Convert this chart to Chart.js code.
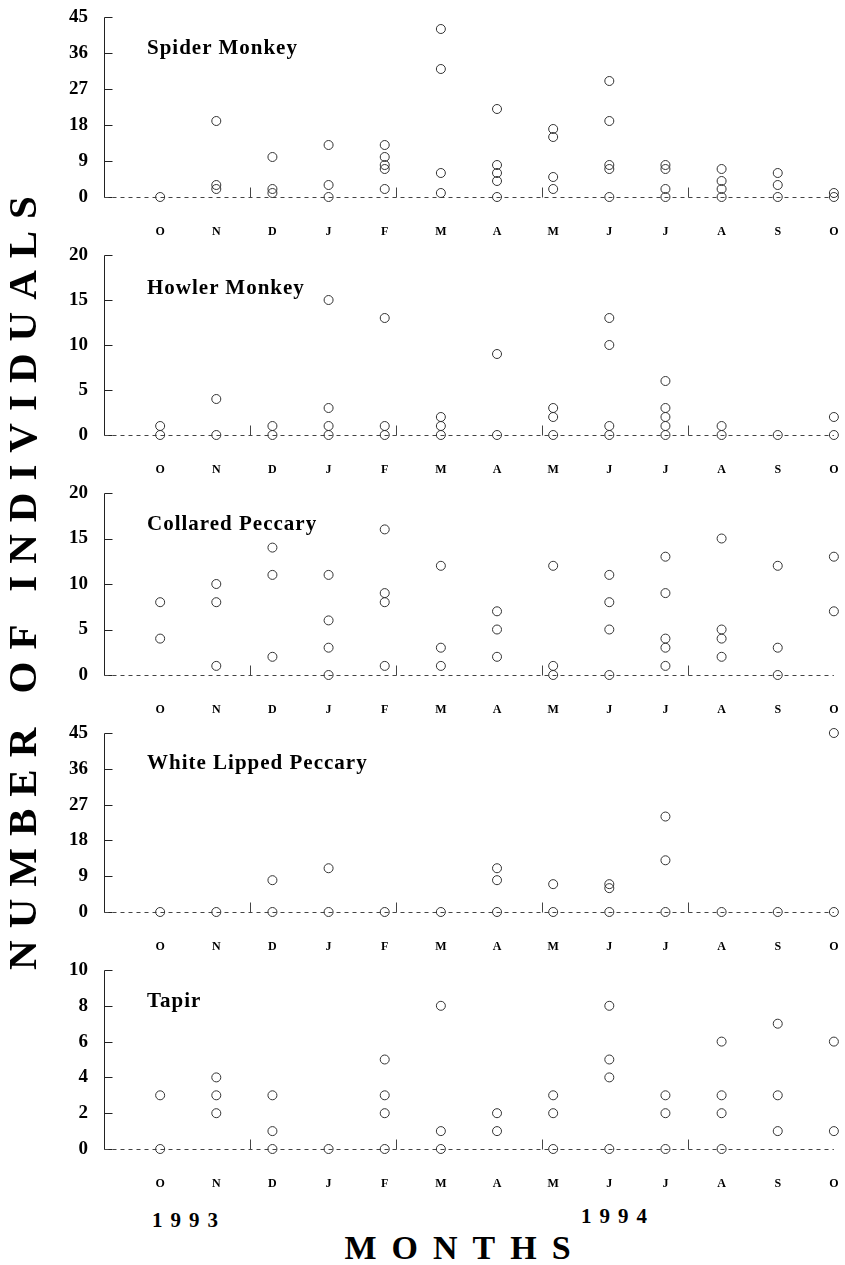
<!DOCTYPE html>
<html>
<head>
<meta charset="utf-8">
<script src="https://cdn.jsdelivr.net/npm/chart.js@4.4.1/dist/chart.umd.min.js"></script>
<style>
  body { margin: 0; background: #fff; }
  #page { position: relative; width: 845px; height: 1265px; overflow: hidden; font-family: "Liberation Serif", serif; color: #000; }
  canvas { position: absolute; left: 0; }
  .title { position: absolute; left: 147px; font-weight: bold; font-size: 21px; letter-spacing: 1px; line-height: 22px; white-space: nowrap; }
  .label { position: absolute; font-weight: bold; white-space: nowrap; text-align: center; }
</style>
</head>
<body>
<div id="page">
  <canvas id="spider" width="845" height="245"></canvas>
  <canvas id="howler" width="845" height="244"></canvas>
  <canvas id="collared" width="845" height="246"></canvas>
  <canvas id="whiteLipped" width="845" height="243"></canvas>
  <canvas id="tapir" width="845" height="243"></canvas>

  <div class="title" style="top:36px">Spider Monkey</div>
  <div class="title" style="top:276px">Howler Monkey</div>
  <div class="title" style="top:512px">Collared Peccary</div>
  <div class="title" style="top:751px">White Lipped Peccary</div>
  <div class="title" style="top:989px">Tapir</div>

  <div class="label" style="left:-378px; top:555px; width:800px; font-size:41px; letter-spacing:12px; line-height:44px; transform:rotate(-90deg);">NUMBER OF INDIVIDUALS</div>
  <div class="label" style="left:139px; top:1208px; width:100px; font-size:21px; letter-spacing:8px; line-height:24px;">1993</div>
  <div class="label" style="left:568px; top:1204px; width:100px; font-size:21px; letter-spacing:8px; line-height:24px;">1994</div>
  <div class="label" style="left:265px; top:1229px; width:400px; font-size:34px; letter-spacing:15px; line-height:38px;">MONTHS</div>
</div>

<script>
// Oct 1993 .. Oct 1994
var monthLabels = ['O', 'N', 'D', 'J', 'F', 'M', 'A', 'M', 'J', 'J', 'A', 'S', 'O'];

var spiderTicks = [0, 9, 18, 27, 36, 45];
var howlerTicks = [0, 5, 10, 15, 20];
var collaredTicks = [0, 5, 10, 15, 20];
var whiteLippedTicks = [0, 9, 18, 27, 36, 45];
var tapirTicks = [0, 2, 4, 6, 8, 10];

// small vertical marks on the zero line (month position)
var seasonMarks = [1.6, 4.2, 6.8, 9.4];

// one list of sightings per month
var spiderMonkey = [
    [0], [19, 3, 2], [10, 2, 1], [13, 3, 0], [13, 10, 8, 7, 2], [42, 32, 6, 1],
    [22, 8, 6, 4, 0], [17, 15, 5, 2], [29, 19, 8, 7, 0], [8, 7, 2, 0], [7, 4, 2, 0],
    [6, 3, 0], [1, 0]
];
var howlerMonkey = [
    [1, 0], [4, 0], [1, 0], [15, 3, 1, 0], [13, 1, 0], [2, 1, 0],
    [9, 0], [3, 2, 0], [13, 10, 1, 0], [6, 3, 2, 1, 0], [1, 0], [0], [2, 0]
];
var collaredPeccary = [
    [8, 4], [10, 8, 1], [14, 11, 2], [11, 6, 3, 0], [16, 9, 8, 1], [12, 3, 1],
    [7, 5, 2], [12, 1, 0], [11, 8, 5, 0], [13, 9, 4, 3, 1], [15, 5, 4, 2], [12, 3, 0], [13, 7]
];
var whiteLippedPeccary = [
    [0], [0], [8, 0], [11, 0], [0], [0],
    [11, 8, 0], [7, 0], [7, 6, 0], [24, 13, 0], [0], [0], [45, 0]
];
var tapir = [
    [3, 0], [4, 3, 2], [3, 1, 0], [0], [5, 3, 2, 0], [8, 1, 0],
    [2, 1], [3, 2, 0], [8, 5, 4, 0], [3, 2, 0], [6, 3, 2, 0], [7, 3, 1], [6, 1]
];

var panels = [
    { id: 'spider', counts: spiderMonkey, ticks: spiderTicks, top: 17, base: 197 },
    { id: 'howler', counts: howlerMonkey, ticks: howlerTicks, top: 255, base: 435 },
    { id: 'collared', counts: collaredPeccary, ticks: collaredTicks, top: 493, base: 675 },
    { id: 'whiteLipped', counts: whiteLippedPeccary, ticks: whiteLippedTicks, top: 733, base: 912 },
    { id: 'tapir', counts: tapir, ticks: tapirTicks, top: 970, base: 1149 }
];

var axisMarks = {
    id: 'axisMarks',
    beforeDatasetsDraw: function(chart) {
        var ctx = chart.ctx;
        var xs = chart.scales.x;
        var ys = chart.scales.y;
        var area = chart.chartArea;
        var left = Math.round(area.left) + 0.5;
        var y0 = Math.round(ys.getPixelForValue(0)) + 0.5;

        ctx.save();
        ctx.strokeStyle = '#222';
        ctx.lineWidth = 1;

        ctx.beginPath();
        ctx.moveTo(left, Math.round(ys.getPixelForValue(ys.max)) + 0.5);
        ctx.lineTo(left, y0);
        ctx.stroke();

        ys.ticks.forEach(function(t) {
            var py = Math.round(ys.getPixelForValue(t.value)) + 0.5;
            ctx.beginPath();
            ctx.moveTo(left, py);
            ctx.lineTo(left + 8, py);
            ctx.stroke();
        });

        ctx.strokeStyle = '#444';
        ctx.setLineDash([4, 4]);
        ctx.beginPath();
        ctx.moveTo(left, y0);
        ctx.lineTo(xs.getPixelForValue(12), y0);
        ctx.stroke();
        ctx.setLineDash([]);

        seasonMarks.forEach(function(m) {
            var px = Math.round(xs.getPixelForValue(m)) + 0.5;
            ctx.beginPath();
            ctx.moveTo(px, y0);
            ctx.lineTo(px, y0 - 10);
            ctx.stroke();
        });
        ctx.restore();
    }
};

panels.forEach(function(p) {
    var canvas = document.getElementById(p.id);
    var padTop = 14;
    var axisHeight = 50;
    canvas.height = padTop + (p.base - p.top) + axisHeight;
    canvas.style.top = (p.top - padTop) + 'px';

    var points = [];
    p.counts.forEach(function(list, month) {
        list.forEach(function(v) {
            points.push({ x: month, y: v });
        });
    });

    new Chart(canvas, {
        type: 'scatter',
        data: {
            datasets: [{
                data: points,
                pointStyle: 'circle',
                pointRadius: 4.5,
                pointBorderWidth: 1,
                borderColor: '#333',
                backgroundColor: 'rgba(0,0,0,0)',
                clip: false
            }]
        },
        options: {
            responsive: false,
            animation: false,
            layout: { padding: { top: padTop, right: 2, left: 0, bottom: 0 } },
            plugins: {
                legend: { display: false },
                tooltip: { enabled: false }
            },
            scales: {
                x: {
                    type: 'linear',
                    min: -1,
                    max: 12.1,
                    grid: { display: false, drawTicks: false },
                    border: { display: false },
                    afterBuildTicks: function(scale) {
                        scale.ticks = monthLabels.map(function(l, i) { return { value: i }; });
                    },
                    afterFit: function(scale) {
                        scale.height = axisHeight;
                        scale.paddingLeft = 0;
                        scale.paddingRight = 0;
                    },
                    ticks: {
                        autoSkip: false,
                        maxRotation: 0,
                        padding: 28,
                        color: '#000',
                        font: { family: 'Liberation Serif', weight: 'bold', size: 12 },
                        callback: function(value) { return monthLabels[value]; }
                    }
                },
                y: {
                    min: 0,
                    max: p.ticks[p.ticks.length - 1],
                    grid: { display: false, drawTicks: false },
                    border: { display: false },
                    afterBuildTicks: function(scale) {
                        scale.ticks = p.ticks.map(function(v) { return { value: v }; });
                    },
                    afterFit: function(scale) {
                        scale.width = 104;
                        scale.paddingTop = 0;
                        scale.paddingBottom = 0;
                    },
                    ticks: {
                        padding: 16,
                        color: '#000',
                        font: { family: 'Liberation Serif', weight: 'bold', size: 19 }
                    }
                }
            }
        },
        plugins: [axisMarks]
    });
});
</script>
</body>
</html>
